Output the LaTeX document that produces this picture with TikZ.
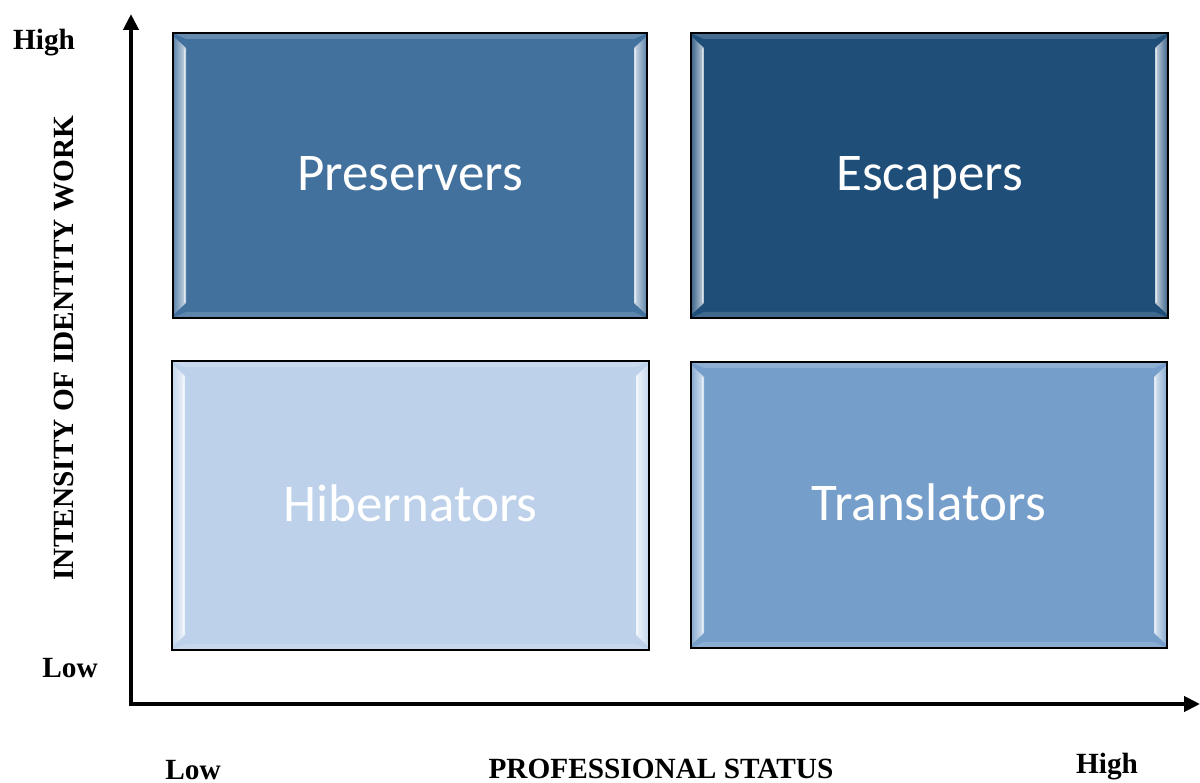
\documentclass[tikz,border=0pt]{standalone}
\usepackage{fontspec}
\setmainfont{Liberation Serif}
\newfontfamily\boxfont{Carlito}
\usetikzlibrary{arrows.meta,calc}
\definecolor{cPres}{RGB}{66,113,157}
\definecolor{cEsc}{RGB}{31,78,121}
\definecolor{cHib}{RGB}{189,209,234}
\definecolor{cTra}{RGB}{117,158,203}
\tikzset{
  axislabel/.style={font=\bfseries\fontsize{29.3}{31}\selectfont, inner sep=0pt},
  qbox/.style={draw=black, line width=1.6pt, minimum width=#1, inner sep=0pt,
     text=white, text height=40pt, text depth=9pt, font=\boxfont\fontsize{53}{56}\selectfont},
  bevel/.style={fill=#1, path picture={
    \coordinate (SW) at (path picture bounding box.south west);
    \coordinate (NE) at (path picture bounding box.north east);
    \coordinate (NW) at (path picture bounding box.north west);
    \coordinate (SE) at (path picture bounding box.south east);
    \fill[#1!82!white] (NW) -- (NE) -- ($(NE)+(-13pt,-6pt)$) -- ($(NW)+(13pt,-6pt)$) -- cycle;
    \fill[#1!85!white] (SW) -- (SE) -- ($(SE)+(-13pt,6pt)$) -- ($(SW)+(13pt,6pt)$) -- cycle;
    \shade[left color=#1!88!white, right color=#1!25!white]
      ($(NW)+(0,-3pt)$) -- ($(NW)+(13pt,-15pt)$) -- ($(SW)+(13pt,15pt)$) -- ($(SW)+(0,3pt)$) -- cycle;
    \shade[left color=#1!25!white, right color=#1!88!white]
      ($(NE)+(0,-3pt)$) -- ($(NE)+(-13pt,-15pt)$) -- ($(SE)+(-13pt,15pt)$) -- ($(SE)+(0,3pt)$) -- cycle;
    \draw[white, opacity=0.55, line width=1.6pt] ($(NW)+(11.5pt,-16pt)$) -- ($(SW)+(11.5pt,16pt)$);
    \draw[white, opacity=0.55, line width=1.6pt] ($(NE)+(-11.5pt,-16pt)$) -- ($(SE)+(-11.5pt,16pt)$);
  }},
  axisline/.style={line width=4pt, -{Triangle[width=15pt,length=16pt]}}
}
\begin{document}
\begin{tikzpicture}[x=1pt,y=-1pt]
\useasboundingbox (0,0) rectangle (1200,783);
% boxes
\node[qbox=474pt, minimum height=285pt, bevel=cPres] (pres) at (410,175.5) {Preservers};
\node[qbox=477pt, minimum height=285pt, bevel=cEsc] (esc) at (929.5,175.5) {Escapers};
\node[qbox=477pt, minimum height=289pt, bevel=cHib] (hib) at (410.5,505.5) {Hibernators};
\node[qbox=476pt, minimum height=286pt, bevel=cTra] (tra) at (929,505) {Translators};
% axes
\coordinate (origin) at (131,704);
\coordinate (ytip) at (131,14);
\coordinate (xtip) at (1200,704);
\draw[axisline] ($(origin)+(0,2)$) -- (ytip);
\draw[axisline] ($(origin)+(-2,0)$) -- (xtip);
% labels
\node[axislabel, anchor=base] (yhigh) at (44,50) {High};
\node[axislabel, anchor=base] (ylow) at (70,677) {Low};
\node[axislabel, anchor=base] (xlow) at (193,779) {Low};
\node[axislabel, anchor=base] (xtitle) at (661,778) {PROFESSIONAL STATUS};
\node[axislabel, anchor=base] (xhigh) at (1107,773) {High};
\node[axislabel, rotate=90] (ytitle) at (64,348) {INTENSITY OF IDENTITY WORK};
\end{tikzpicture}
\end{document}
